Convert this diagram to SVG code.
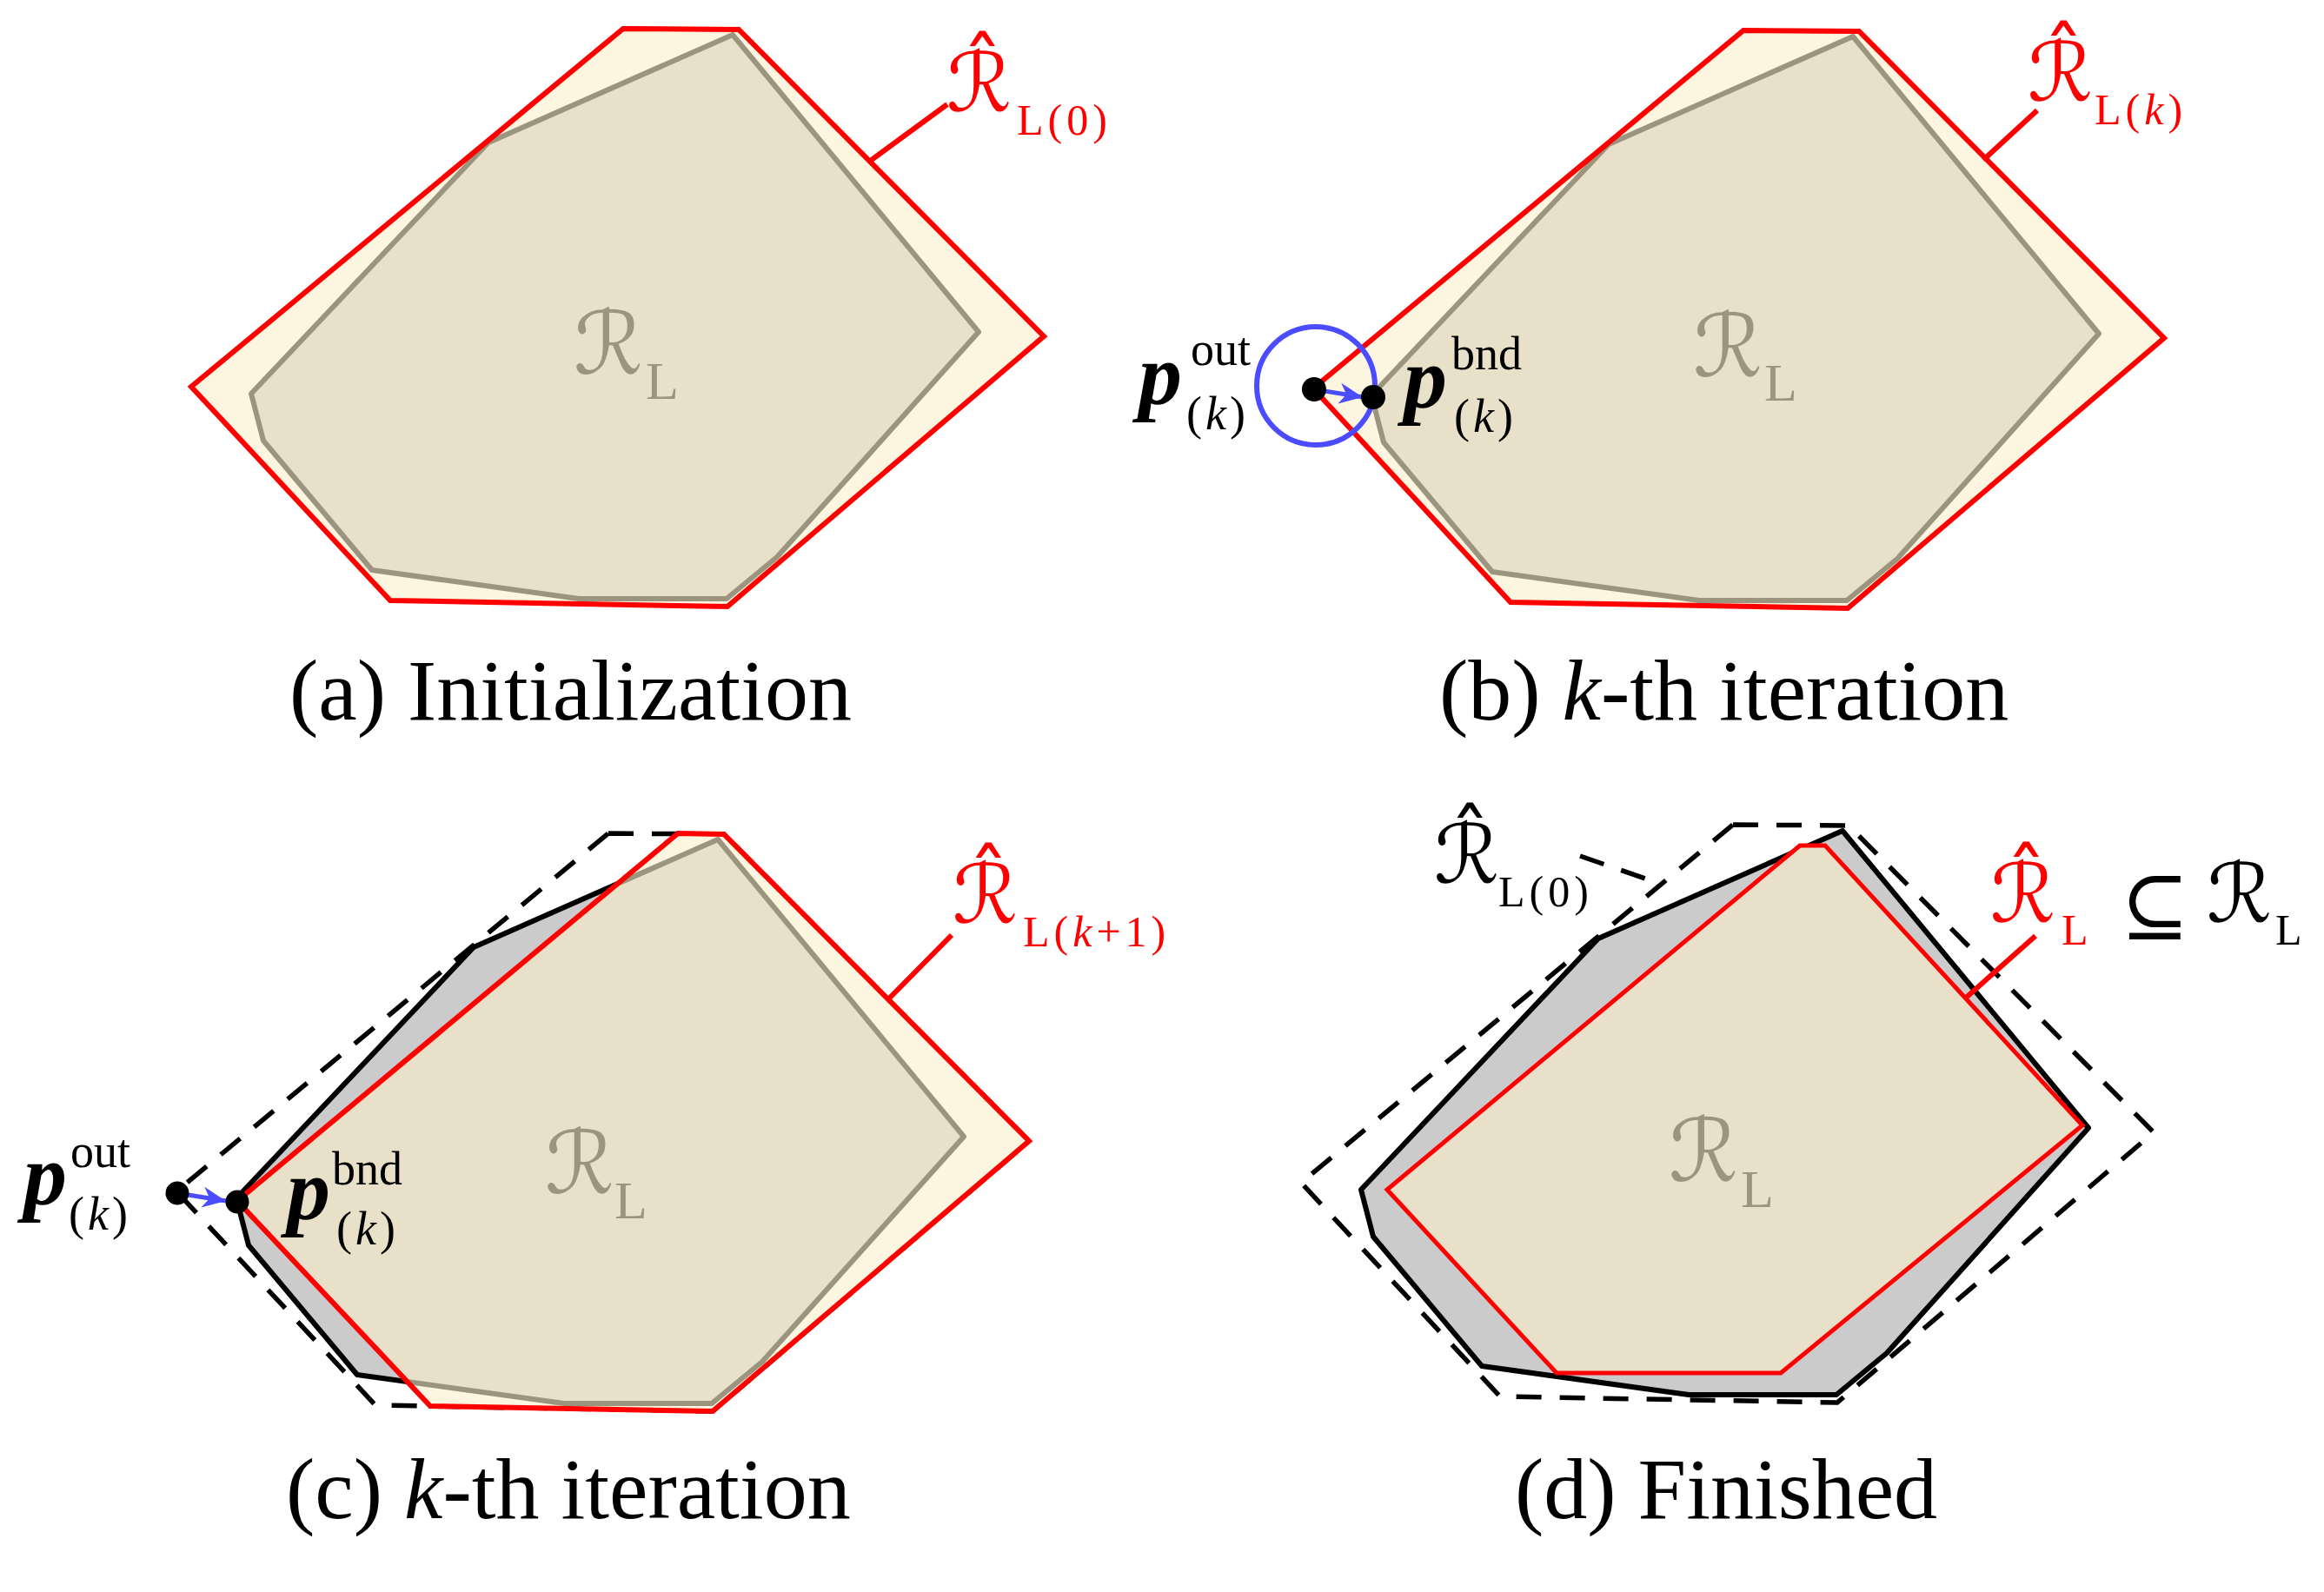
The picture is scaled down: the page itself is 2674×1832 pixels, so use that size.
<svg xmlns="http://www.w3.org/2000/svg" xmlns:xlink="http://www.w3.org/1999/xlink" width="2674" height="1832" viewBox="0 0 2674 1832">
<style>
.bg{fill:#ffffff}
.cream{fill:#fcf5df;stroke:none}
.rl{fill:#e8e0c8;stroke:#9b9580;stroke-width:6;stroke-linejoin:round}
.rlgray{fill:#cbcbcb;stroke:#000000;stroke-width:6;stroke-linejoin:round}
.red{fill:none;stroke:#ff0000;stroke-width:6;stroke-linejoin:miter}
.redbeige{fill:#e8e0c8;stroke:#ff0000;stroke-width:5;stroke-linejoin:miter}
.dash{fill:none;stroke:#000000;stroke-width:5.5;stroke-dasharray:29 21}
.lead{fill:none;stroke:#ff0000;stroke-width:6}
.leaddash{fill:none;stroke:#000000;stroke-width:5.5;stroke-dasharray:29 21}
.blue{fill:none;stroke:#4b4bff;stroke-width:6}
.arrow{fill:none;stroke:#4b4bff;stroke-width:5;marker-end:url(#arr)}
.dot{fill:#000000}
.cap{font-family:"Liberation Serif",serif;font-size:100px;fill:#000000}
.lab{font-family:"Liberation Serif",serif}
.cal{font-family:"DejaVu Serif","DejaVu Sans",serif;font-size:94px}
.sub{font-size:50px;letter-spacing:5px}
.gl{fill:#9b9580}
.gcal{font-family:"DejaVu Serif","DejaVu Sans",serif;font-size:100px}
.gsub{font-size:62px}
.pb{font-size:100px;font-weight:bold;font-style:italic}
.ps{font-size:54px}
.psk{font-size:54px;letter-spacing:4px}
.it{font-style:italic}
.r{fill:#ff0000}
.k{fill:#000000}
</style>
<defs>
<polygon id="red0" points="717,33 850,34 1201,387 837,698 449,691 220,445"/>
<polygon id="rlp" points="843,40 562,164 289,453 303,507 428,656 666,689 836,689 894,641 1126,382"/>
<marker id="arr" markerUnits="userSpaceOnUse" markerWidth="32" markerHeight="32" viewBox="-30 -16 32 32" refX="0" refY="0" orient="auto">
<path d="M0,0 L-27,-12 L-19,0 L-27,12 Z" fill="#4b4bff"/>
</marker>
<clipPath id="clipC"><polygon points="780,959 833,960 1184,1313 820,1624 495,1618 273,1382"/></clipPath>
</defs>
<rect class="bg" x="0" y="0" width="2674" height="1832"/>

<g id="panel-a">
<use xlink:href="#red0" class="cream"/>
<use xlink:href="#rlp" class="rl"/>
<use xlink:href="#red0" class="red"/>
</g>

<g id="panel-b">
<polygon class="cream" points="2006,35 2139,36 2490,389 2126,700 1738,693 1511,447"/>
<use xlink:href="#rlp" class="rl" transform="translate(1289,2)"/>
<polygon class="red" points="2006,35 2139,36 2490,389 2126,700 1738,693 1511,447"/>
</g>

<g id="panel-c">
<use xlink:href="#red0" class="dash" transform="translate(-17,926)"/>
<use xlink:href="#rlp" class="rlgray" transform="translate(-17,926)"/>
<polygon class="cream" points="780,959 833,960 1184,1313 820,1624 495,1618 273,1382"/>
<g clip-path="url(#clipC)"><use xlink:href="#rlp" class="rl" transform="translate(-17,926)"/></g>
<polygon class="red" points="780,959 833,960 1184,1313 820,1624 495,1618 273,1382"/>
</g>

<g id="panel-d">
<use xlink:href="#red0" class="dash" transform="translate(1277,916)"/>
<use xlink:href="#rlp" class="rlgray" transform="translate(1277,916)"/>
<polygon class="redbeige" points="2071,973 2100,973 2396,1295 2049,1580 1791,1580 1596,1369"/>
</g>

<g id="connectors">
<line class="lead" x1="1000" y1="186" x2="1090" y2="120"/>
<line class="lead" x1="2282" y1="184" x2="2344" y2="127"/>
<line class="lead" x1="1021" y1="1151" x2="1095" y2="1076"/>
<line class="lead" x1="2261" y1="1149" x2="2342" y2="1077"/>
<line class="leaddash" x1="1818" y1="985" x2="1893" y2="1011"/>
<circle class="blue" cx="1514" cy="444" r="68"/>
<line class="arrow" x1="1512" y1="448" x2="1568" y2="457"/>
<line class="arrow" x1="204" y1="1373" x2="260" y2="1382"/>
</g>

<g id="points">
<circle class="dot" cx="1512" cy="448" r="14"/>
<circle class="dot" cx="1580" cy="457" r="14"/>
<circle class="dot" cx="204" cy="1373" r="13.5"/>
<circle class="dot" cx="273" cy="1383" r="13.5"/>
</g>

<g id="labels-a">
<text class="lab r"><tspan class="cal" x="1089" y="128">ℛ̂</tspan><tspan class="sub" x="1170" y="155">L(0)</tspan></text>
<text class="lab gl"><tspan class="gcal" x="660" y="430">ℛ</tspan><tspan class="gsub" x="743" y="459">L</tspan></text>
</g>

<g id="labels-b">
<text class="lab r"><tspan class="cal" x="2333" y="116">ℛ̂</tspan><tspan class="sub" x="2410" y="143">L(<tspan class="it">k</tspan>)</tspan></text>
<text class="lab gl"><tspan class="gcal" x="1948" y="433">ℛ</tspan><tspan class="gsub" x="2030" y="461">L</tspan></text>
<text class="lab k"><tspan class="pb" x="1310" y="465">p</tspan><tspan class="ps" x="1370" y="420">out</tspan><tspan class="psk" x="1365" y="494">(<tspan class="it">k</tspan>)</tspan></text>
<text class="lab k"><tspan class="pb" x="1615" y="469">p</tspan><tspan class="ps" x="1670" y="425">bnd</tspan><tspan class="psk" x="1673" y="497">(<tspan class="it">k</tspan>)</tspan></text>
</g>

<g id="labels-c">
<text class="lab r"><tspan class="cal" x="1096" y="1062">ℛ̂</tspan><tspan class="sub" x="1177" y="1089">L(<tspan class="it">k</tspan>+1)</tspan></text>
<text class="lab gl"><tspan class="gcal" x="627" y="1373">ℛ</tspan><tspan class="gsub" x="707" y="1402">L</tspan></text>
<text class="lab k"><tspan class="pb" x="27" y="1386">p</tspan><tspan class="ps" x="81" y="1343">out</tspan><tspan class="psk" x="79" y="1415">(<tspan class="it">k</tspan>)</tspan></text>
<text class="lab k"><tspan class="pb" x="330" y="1403">p</tspan><tspan class="ps" x="382" y="1363">bnd</tspan><tspan class="psk" x="387" y="1432">(<tspan class="it">k</tspan>)</tspan></text>
</g>

<g id="labels-d">
<text class="lab k"><tspan class="cal" x="1650" y="1016">ℛ̂</tspan><tspan class="sub" x="1724" y="1043">L(0)</tspan></text>
<text class="lab r"><tspan class="cal" x="2290" y="1061">ℛ̂</tspan><tspan class="sub" x="2372" y="1087" font-size="55">L</tspan></text>
<text class="lab k"><tspan class="cal" x="2440" y="1074" font-size="80">⊆</tspan><tspan class="cal" x="2539" y="1061">ℛ</tspan><tspan class="sub" x="2618" y="1087" font-size="55">L</tspan></text>
<text class="lab gl"><tspan class="gcal" x="1920" y="1359">ℛ</tspan><tspan class="gsub" x="2003" y="1389">L</tspan></text>
</g>

<g id="captions">
<text class="cap" x="333" y="828">(a) Initialization</text>
<text class="cap" x="1656" y="828">(b) <tspan class="it">k</tspan>-th iteration</text>
<text class="cap" x="329" y="1747">(c) <tspan class="it">k</tspan>-th iteration</text>
<text class="cap" x="1743" y="1747">(d) Finished</text>
</g>
</svg>
